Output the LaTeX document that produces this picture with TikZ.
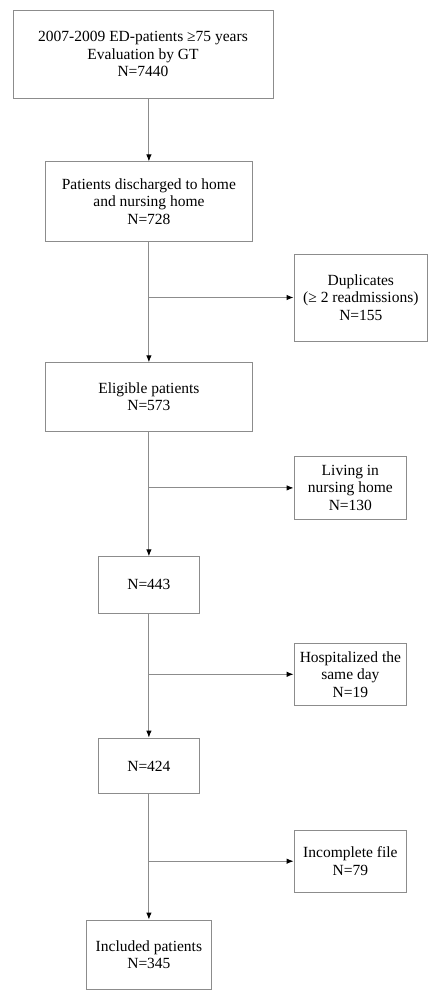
\documentclass[tikz,border=0pt]{standalone}
\usepackage{fontspec}
\setmainfont{Liberation Serif}
\usetikzlibrary{arrows.meta}
\definecolor{linegray}{RGB}{140,140,140}
\begin{document}
\begin{tikzpicture}[x=1pt,y=-1pt,
  box/.style={draw=linegray,line width=0.9pt,rectangle,inner sep=0pt,align=center,
    font=\fontsize{15.5}{17.4}\selectfont},
  conn/.style={draw=linegray,line width=0.9pt,-{Latex[length=7pt,width=5.5pt,color=black]}}]
\useasboundingbox (0,0) rectangle (440,1000);
\node[box,minimum width=260pt,minimum height=87.7pt] (b1) at (143,54.3)
  {2007-2009 ED-patients ≥75 years\\Evaluation by GT\\N=7440};
\node[box,minimum width=206.3pt,minimum height=79.3pt] (b2) at (148.9,201.5)
  {Patients discharged to home\\and nursing home\\N=728};
\node[box,minimum width=133.7pt,minimum height=87pt] (dup) at (360.85,297.5)
  {Duplicates\\(≥ 2 readmissions)\\N=155};
\node[box,minimum width=206.3pt,minimum height=68.3pt] (b3) at (148.9,396.9)
  {Eligible patients\\N=573};
\node[box,minimum width=112.7pt,minimum height=62.3pt] (liv) at (350.35,487.9)
  {Living in\\nursing home\\N=130};
\node[box,minimum width=101pt,minimum height=56.3pt] (b4) at (148.9,584.9)
  {N=443};
\node[box,minimum width=112.7pt,minimum height=62pt] (hosp) at (350.35,674.3)
  {Hospitalized the\\same day\\N=19};
\node[box,minimum width=101pt,minimum height=55.7pt] (b5) at (148.9,765.9)
  {N=424};
\node[box,minimum width=112.7pt,minimum height=62.3pt] (inc) at (350.35,861.2)
  {Incomplete file\\N=79};
\node[box,minimum width=124.3pt,minimum height=69pt] (b6) at (148.9,954.5)
  {Included patients\\N=345};
\draw[conn] (b1.south -| b2.north) -- (b2.north);
\draw[conn] (b2.south) -- (b3.north);
\draw[conn] (b2.south |- dup.west) -- (dup.west);
\draw[conn] (b3.south) -- (b4.north);
\draw[conn] (b3.south |- liv.west) -- (liv.west);
\draw[conn] (b4.south) -- (b5.north);
\draw[conn] (b4.south |- hosp.west) -- (hosp.west);
\draw[conn] (b5.south) -- (b6.north);
\draw[conn] (b5.south |- inc.west) -- (inc.west);
\end{tikzpicture}
\end{document}
